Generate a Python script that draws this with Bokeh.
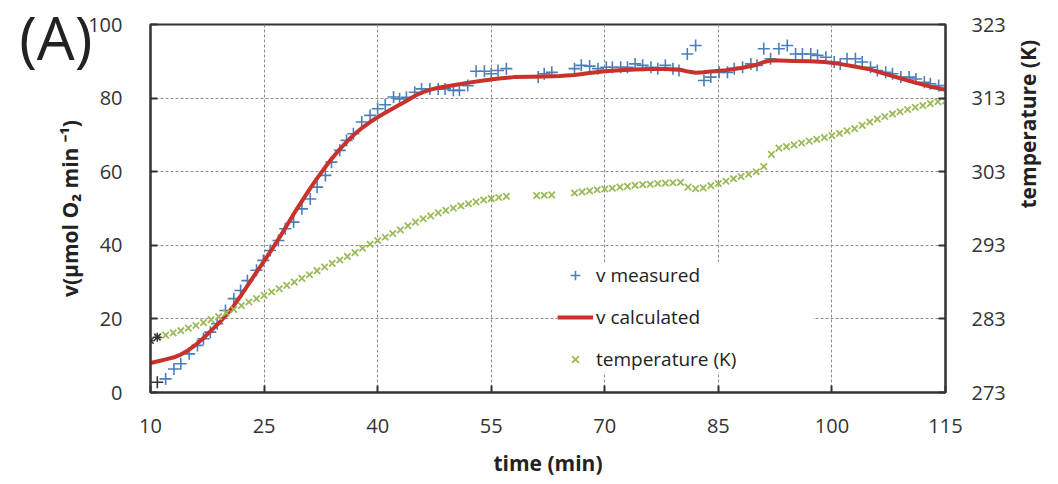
import math
from bokeh.plotting import figure
from bokeh.models import Range1d, LinearAxis, FixedTicker, Legend, LegendItem
from bokeh.embed import file_html
from bokeh.resources import INLINE

# ---------------- data ----------------
time_ticks = [10, 25, 40, 55, 70, 85, 100, 115]
v_ticks = [0, 20, 40, 60, 80, 100]
temp_ticks = [273, 283, 293, 303, 313, 323]

meas_t = [12.0, 13.1, 14.0, 15.1, 16.2, 17.0, 17.9, 18.8, 19.9, 21.0, 21.9, 22.8, 24.0, 24.9,
          25.8, 26.9, 27.8, 28.9, 30.0, 31.1, 32.0, 33.1, 33.9, 35.0, 35.9, 36.8, 37.9, 39.0,
          40.0, 41.0, 42.1, 42.9, 43.8, 44.9, 45.8, 46.9, 48.0, 48.9, 50.0, 50.8, 51.9, 53.0,
          54.1, 55.0, 55.9, 57.0, 61.2, 62.0, 63.0, 66.0, 66.9, 68.0, 69.1, 70.2, 71.0, 72.1,
          73.0, 74.0, 75.0, 76.1, 77.0, 78.0, 79.0, 79.8, 80.9, 82.0, 83.1, 84.0, 85.1, 86.2,
          87.1, 88.2, 89.3, 90.1, 91.0, 91.9, 93.0, 94.1, 95.2, 96.1, 97.2, 98.1, 99.2, 100.3,
          101.1, 102.0, 103.1, 104.0, 105.1, 106.0, 107.1, 108.0, 109.1, 110.2, 111.1, 112.2,
          113.0, 114.1, 115.0]
meas_v = [3.7, 6.4, 7.8, 10.5, 12.8, 14.6, 16.4, 18.7, 22.3, 25.5, 27.7, 30.4, 33.2, 35.9,
          38.6, 41.3, 44.5, 46.3, 49.9, 52.6, 55.8, 59.0, 62.6, 65.8, 68.5, 70.3, 73.5, 75.3,
          77.1, 78.2, 80.3, 79.8, 80.2, 81.6, 82.5, 82.5, 82.5, 82.5, 82.1, 82.1, 83.4, 87.3,
          87.3, 86.6, 87.5, 88.0, 85.7, 86.6, 87.0, 88.0, 88.9, 88.7, 88.0, 88.4, 88.4, 88.4,
          88.4, 89.3, 88.9, 88.4, 88.0, 88.9, 88.0, 87.5, 92.0, 94.3, 84.8, 85.7, 87.0, 87.0,
          88.0, 88.4, 89.3, 88.9, 93.4, 90.7, 93.4, 94.3, 92.0, 92.0, 92.0, 91.6, 91.1, 89.8,
          89.3, 90.7, 90.7, 89.8, 88.4, 87.5, 87.0, 86.6, 85.7, 85.7, 85.2, 84.3,
          83.9, 83.4, 82.1]

calc_t = [10, 11, 12, 13, 14, 15, 16, 17, 18, 19, 20, 21, 22, 23, 24, 25, 26, 27, 28, 29, 30,
          31, 32, 33, 34, 35, 36, 37, 38, 39, 40, 41, 42, 43, 44, 45, 46, 47, 48, 50, 52, 54,
          56, 58, 60, 62, 64, 66, 68, 70, 72, 74, 76, 78, 80, 81, 82, 83, 84, 86, 88, 90, 91,
          92, 93, 95, 97, 99, 101, 103, 105, 107, 109, 111, 113, 115]
calc_v = [8.0, 8.5, 9.0, 9.5, 10.3, 11.5, 13.0, 14.8, 16.8, 18.8, 21.0, 23.6, 26.5, 29.6, 32.7,
          35.7, 38.8, 42.0, 45.4, 48.8, 52.0, 55.2, 58.2, 61.0, 63.7, 66.1, 68.3, 70.3, 72.0,
          73.5, 74.8, 76.0, 77.2, 78.3, 79.5, 80.7, 81.6, 82.3, 82.8, 83.5, 84.2, 84.8, 85.3,
          85.7, 85.8, 85.9, 86.0, 86.3, 86.8, 87.3, 87.6, 87.8, 87.9, 87.9, 87.7, 87.2, 86.9,
          87.0, 87.2, 87.6, 88.2, 89.0, 89.8, 90.2, 90.2, 90.1, 90.0, 89.8, 89.3, 88.6, 87.8,
          86.6, 85.4, 84.2, 83.1, 82.3]

temp_t = [11, 12, 13, 14, 15, 16, 17, 18, 19, 20, 21, 22, 23, 24, 25, 26, 27, 28, 29, 30, 31,
          32, 33, 34, 35, 36, 37, 38, 39, 40, 41, 42, 43, 44, 45, 46, 47, 48, 49, 50, 51, 52,
          53, 54, 55, 56, 57, 61, 62, 63, 66, 67, 68, 69, 70, 71, 72, 73, 74, 75, 76, 77, 78,
          79, 80, 81, 82, 83, 84, 85, 86, 87, 88, 89, 90, 91, 92, 93, 94, 95, 96, 97, 98, 99,
          100, 101, 102, 103, 104, 105, 106, 107, 108, 109, 110, 111, 112, 113, 114, 115]
temp_k = [280.6, 280.8, 281.1, 281.4, 281.75, 282.1, 282.5, 282.9, 283.3, 283.8, 284.3, 284.8,
          285.3, 285.75, 286.2, 286.65, 287.1, 287.55, 288.0, 288.5, 289.0, 289.55, 290.05,
          290.55, 291.0, 291.5, 292.0, 292.6, 293.15, 293.65, 294.1, 294.6, 295.1, 295.65,
          296.15, 296.6, 297.0, 297.4, 297.75, 298.05, 298.35, 298.65, 298.9, 299.15, 299.35,
          299.5, 299.65, 299.75, 299.8, 299.85, 300.1, 300.25, 300.4, 300.55, 300.65, 300.75,
          300.9, 301.0, 301.15, 301.25, 301.3, 301.4, 301.45, 301.5, 301.55, 300.9, 300.7,
          300.8, 301.1, 301.4, 301.7, 302.05, 302.35, 302.65, 303.0, 303.7, 305.35, 306.2,
          306.4, 306.65, 306.9, 307.15, 307.4, 307.65, 307.9, 308.2, 308.55, 308.85, 309.3,
          309.75, 310.15, 310.5, 310.85, 311.15, 311.45, 311.75, 312.0, 312.25, 312.5, 312.6]

first_meas_t = [10.9]
first_meas_v = [2.8]
first_temp_t = [10.0, 10.9]
first_temp_k = [280.05, 280.5]

panel_tag = "(A)"

# ---------------- styles ----------------
FONT = "Open Sans"
BLUE = "#4a7ebb"
RED = "#c8322a"
GREEN = "#9bbb59"
DARK = "#333333"

p = figure(width=1058, height=484, output_backend="svg", toolbar_location=None,
           x_range=Range1d(10, 115), y_range=Range1d(0, 100),
           min_border_left=150, min_border_right=111, min_border_top=24, min_border_bottom=92)
p.extra_y_ranges = {"temp": Range1d(273, 323)}
p.background_fill_color = "white"
p.border_fill_color = "white"
p.outline_line_color = DARK
p.outline_line_width = 2

r_meas = p.scatter(meas_t, meas_v, marker="cross", size=12, line_width=1.6, color=BLUE)
r_calc = p.line(calc_t, calc_v, line_width=4, color=RED)
r_temp = p.scatter(temp_t, temp_k, marker="x", size=9, line_width=1.8, color=GREEN,
                   y_range_name="temp")
p.scatter(first_meas_t, first_meas_v, marker="cross", size=12, line_width=1.6, color=DARK)
p.scatter(first_temp_t, first_temp_k, marker="asterisk", size=9, line_width=1.4, color=DARK,
          y_range_name="temp")

right = LinearAxis(y_range_name="temp")
p.add_layout(right, "right")

for ax, ticks in ((p.xaxis[0], time_ticks), (p.yaxis[0], v_ticks), (right, temp_ticks)):
    ax.ticker = FixedTicker(ticks=ticks)
    ax.axis_line_color = DARK
    ax.axis_line_width = 2
    ax.major_tick_line_color = DARK
    ax.major_tick_line_width = 2
    ax.major_tick_in = 7
    ax.major_tick_out = 0
    ax.minor_tick_line_color = None
    ax.major_label_text_font = FONT
    ax.major_label_text_font_size = "20px"
    ax.major_label_text_color = DARK
    ax.axis_label_text_font = FONT
    ax.axis_label_text_font_style = "bold"
    ax.axis_label_text_font_size = "21px"
    ax.axis_label_text_color = "#222222"

p.xaxis[0].major_label_standoff = 26
p.xaxis[0].axis_label = "time (min)"
p.xaxis[0].axis_label_standoff = 13
p.yaxis[0].major_label_standoff = 28
p.yaxis[0].axis_label = "v(\u03bcmol O\u2082 min \u207b\u00b9)"
p.yaxis[0].axis_label_standoff = 1
right.major_label_standoff = 26
right.axis_label = "temperature (K)"
right.axis_label_standoff = 19
try:
    right.axis_label_orientation = math.pi / 2
except Exception:
    pass

# panel tag "(A)" carried by an extra, tick-less left axis (label anchored at the frame top;
# an empty first line with a tight line height nudges it slightly downwards)
tag_axis = LinearAxis(ticker=FixedTicker(ticks=[]), axis_label="\n" + panel_tag)
tag_axis.axis_line_color = None
tag_axis.major_tick_line_color = None
tag_axis.minor_tick_line_color = None
tag_axis.major_label_standoff = 0
tag_axis.major_tick_in = 0
tag_axis.major_tick_out = 0
tag_axis.axis_label_text_font = FONT
tag_axis.axis_label_text_font_size = "60px"
tag_axis.axis_label_text_font_style = "normal"
tag_axis.axis_label_text_color = "#222222"
tag_axis.axis_label_text_line_height = 0.3
tag_axis.axis_label_standoff = -39
try:
    tag_axis.axis_label_orientation = "horizontal"
except Exception:
    pass
try:
    tag_axis.axis_label_align = "end"
except Exception:
    pass
p.add_layout(tag_axis, "left")

p.xgrid.ticker = FixedTicker(ticks=time_ticks)
p.ygrid.ticker = FixedTicker(ticks=v_ticks)
for g in (p.xgrid, p.ygrid):
    g.grid_line_color = "#8c8c8c"
    g.grid_line_width = 1
    g.grid_line_dash = "3 2"

legend = Legend(items=[LegendItem(label="v measured", renderers=[r_meas]),
                       LegendItem(label="v calculated", renderers=[r_calc]),
                       LegendItem(label="temperature (K)", renderers=[r_temp])],
                location=(407, 20), background_fill_color="white", background_fill_alpha=1.0,
                border_line_color=None, label_text_font=FONT, label_text_font_size="19px",
                label_text_color="#222222", glyph_width=36, glyph_height=24, label_height=24,
                label_width=217, spacing=16, padding=10, label_standoff=3, margin=0)
p.add_layout(legend)

open("out.html", "w").write(file_html(p, INLINE))
